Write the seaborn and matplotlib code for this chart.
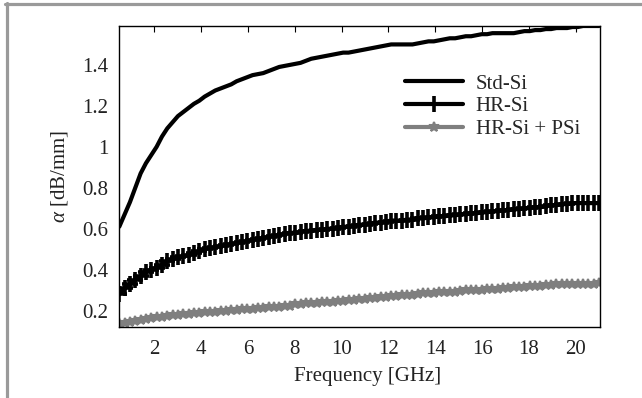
import numpy as np
import pandas as pd
import matplotlib
matplotlib.use("Agg")
import matplotlib.pyplot as plt
from matplotlib.lines import Line2D
from matplotlib.ticker import FuncFormatter
import seaborn as sns

# frequency sweep (GHz), 91 points
freq = np.linspace(0.5, 21.0, 91)

std_si = [0.61, 0.67, 0.73, 0.80, 0.87, 0.92, 0.96, 1.00, 1.05, 1.09,
          1.12, 1.15, 1.17, 1.19, 1.21, 1.225, 1.245, 1.26, 1.275, 1.285,
          1.295, 1.305, 1.32, 1.33, 1.34, 1.35, 1.355, 1.36, 1.37, 1.38,
          1.39, 1.395, 1.40, 1.405, 1.41, 1.42, 1.43, 1.435, 1.44, 1.445,
          1.45, 1.455, 1.46, 1.46, 1.465, 1.47, 1.475, 1.48, 1.485, 1.49,
          1.495, 1.50, 1.50, 1.50, 1.50, 1.50, 1.505, 1.51, 1.515, 1.515,
          1.52, 1.525, 1.53, 1.53, 1.535, 1.54, 1.54, 1.545, 1.55, 1.55,
          1.555, 1.555, 1.555, 1.555, 1.555, 1.56, 1.565, 1.565, 1.57, 1.57,
          1.575, 1.575, 1.58, 1.58, 1.58, 1.585, 1.585, 1.59, 1.59, 1.59,
          1.59]

hr_si = [0.28, 0.31, 0.33, 0.35, 0.37, 0.39, 0.40, 0.41, 0.425, 0.44,
         0.45, 0.46, 0.465, 0.47, 0.48, 0.49, 0.50, 0.505, 0.51, 0.515,
         0.52, 0.525, 0.53, 0.535, 0.54, 0.545, 0.55, 0.555, 0.56, 0.565,
         0.57, 0.575, 0.58, 0.58, 0.585, 0.59, 0.59, 0.595, 0.595, 0.60,
         0.60, 0.605, 0.61, 0.61, 0.615, 0.62, 0.62, 0.625, 0.63, 0.63,
         0.635, 0.64, 0.64, 0.64, 0.645, 0.645, 0.65, 0.65, 0.655, 0.655,
         0.66, 0.66, 0.665, 0.665, 0.67, 0.67, 0.675, 0.675, 0.68, 0.68,
         0.685, 0.685, 0.69, 0.69, 0.695, 0.695, 0.70, 0.70, 0.705, 0.705,
         0.71, 0.715, 0.715, 0.72, 0.72, 0.725, 0.725, 0.725, 0.725, 0.725,
         0.725]

hr_psi = [0.14, 0.14, 0.145, 0.15, 0.155, 0.16, 0.165, 0.17, 0.17, 0.175,
          0.18, 0.18, 0.185, 0.185, 0.19, 0.19, 0.195, 0.195, 0.195, 0.20,
          0.20, 0.205, 0.205, 0.21, 0.21, 0.21, 0.215, 0.215, 0.22, 0.22,
          0.22, 0.225, 0.225, 0.23, 0.23, 0.235, 0.235, 0.235, 0.24, 0.24,
          0.24, 0.245, 0.245, 0.25, 0.25, 0.255, 0.255, 0.26, 0.26, 0.265,
          0.265, 0.27, 0.27, 0.275, 0.275, 0.275, 0.28, 0.285, 0.285, 0.285,
          0.29, 0.29, 0.29, 0.29, 0.295, 0.30, 0.30, 0.30, 0.30, 0.305,
          0.305, 0.305, 0.31, 0.31, 0.315, 0.315, 0.315, 0.32, 0.32, 0.32,
          0.325, 0.325, 0.33, 0.33, 0.33, 0.33, 0.33, 0.33, 0.33, 0.33,
          0.335]

labels = ["Std-Si", "HR-Si", "HR-Si + PSi"]
xticks = [2, 4, 6, 8, 10, 12, 14, 16, 18, 20]
yticks = [0.2, 0.4, 0.6, 0.8, 1.0, 1.2, 1.4]

sns.set_style("white")
plt.rcParams["font.family"] = ["Liberation Serif", "DejaVu Serif"]
plt.rcParams["mathtext.fontset"] = "custom"
plt.rcParams["mathtext.rm"] = "Liberation Serif"
plt.rcParams["mathtext.it"] = "Liberation Serif:italic"

fig = plt.figure(figsize=(6.42, 3.98), dpi=100)
ax = fig.add_axes([119.3 / 642, 71 / 398, (600 - 119.3) / 642, (327 - 26) / 398])

sns.lineplot(x=freq, y=std_si, ax=ax, color="black", lw=3, label=labels[0])
sns.lineplot(x=freq, y=hr_si, ax=ax, color="black", lw=3, marker="+",
             markersize=11, markeredgewidth=2.6, markeredgecolor="black",
             label=labels[1])
sns.lineplot(x=freq, y=hr_psi, ax=ax, color="#7f7f7f", lw=3, marker="*",
             markersize=7, markeredgewidth=1.5, markeredgecolor="#7f7f7f",
             markerfacecolor="#7f7f7f", label=labels[2])

ax.set_xlim(0.5, 21.04)
ax.set_ylim(0.12, 1.59)
ax.set_xticks(xticks)
ax.set_yticks(yticks)
ax.yaxis.set_major_formatter(FuncFormatter(lambda v, p: "%g" % round(v, 2)))
ax.tick_params(direction="in", length=4, width=0.8, labelsize=15,
               colors="black", labelcolor="#222222", top=True, right=False)
ax.tick_params(axis="x", pad=9)
ax.tick_params(axis="y", pad=8)
for s in ax.spines.values():
    s.set_color("black")
    s.set_linewidth(1.0)

ax.set_xlabel("Frequency [GHz]", fontsize=15, color="#222222", labelpad=6)
ax.xaxis.label.set_x(0.517)
ax.set_ylabel(r"$\alpha$ [dB/mm]", fontsize=15, color="#222222", labelpad=9)

ax.legend(loc="center left", bbox_to_anchor=(405 / 642, 1 - 106.7 / 398),
          bbox_transform=fig.transFigure, frameon=False, fontsize=15,
          handlelength=2.8, handletextpad=0.6, labelspacing=0.15,
          borderpad=0, borderaxespad=0, numpoints=1)

# light gray frame (top and left edge of the cropped figure)
fig.add_artist(Line2D([6.5 / 642, 6.5 / 642], [0, 1 - 3 / 398],
                      transform=fig.transFigure, color="#9a9a9a", lw=2.3))
fig.add_artist(Line2D([5 / 642, 1], [1 - 4 / 398, 1 - 4 / 398],
                      transform=fig.transFigure, color="#9a9a9a", lw=2.3))

fig.savefig("out.png", dpi=100)
